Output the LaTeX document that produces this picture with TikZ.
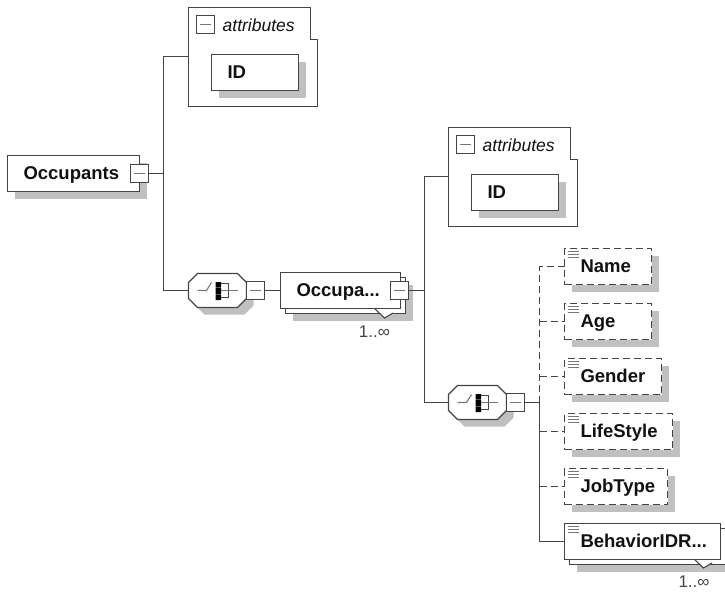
\documentclass[tikz,border=0pt]{standalone}
\usepackage{fontspec}
\setmainfont{Liberation Sans}
\usetikzlibrary{shadows,calc}
\definecolor{linec}{HTML}{444444}
\definecolor{shadowc}{HTML}{C0C0C0}
\definecolor{minusc}{HTML}{777777}
\definecolor{textc}{HTML}{111111}
\tikzset{
  x=1pt,y=-1pt,
  base/.style={line width=1.1pt,draw=linec},
  shad/.style={drop shadow={shadow xshift=7pt,shadow yshift=-7pt,fill=shadowc,opacity=1}},
  elem/.style={base,fill=white,anchor=north west,outer sep=0pt,inner xsep=16pt,inner ysep=0pt,
    text width=#1,minimum height=36pt,text height=15pt,text depth=3pt,align=left,
    font=\fontsize{18.5}{20}\selectfont\bfseries,text=textc},
  dash el/.style={dash pattern=on 7pt off 4pt},
  minusbox/.style={base,fill=white,anchor=center,outer sep=0pt,inner sep=0pt,minimum width=18pt,minimum height=18pt,
    path picture={\draw[minusc,line width=1.1pt]
      ([xshift=3.5pt]path picture bounding box.west) -- ([xshift=-3.5pt]path picture bounding box.east);}},
  ghost/.style={anchor=north west,outer sep=0pt,inner sep=0pt},
  conn/.style={line width=1.1pt,draw=linec},
  dconn/.style={conn,dash el},
  attrlabel/.style={anchor=west,inner sep=0pt,font=\fontsize{17.5}{20}\selectfont\itshape,text=textc},
  occurs/.style={inner sep=0pt,font=\fontsize{17}{20}\selectfont,text=linec},
  doc/.style={line width=1pt,draw=minusc},
}
% attributes box: #1 name, #2 x, #3 y
\newcommand{\attrbox}[3]{%
  \begin{scope}[shift={(#2,#3)}]
    \path[base,fill=white] (0,0) -- (122,0) -- (122,32) -- (129,32) -- (129,99) -- (0,99) -- cycle;
    \node[ghost,minimum width=129pt,minimum height=98pt] (#1) at (0,0) {};
    \node[minusbox] (#1minus) at (17,17) {};
    \node[attrlabel] (#1label) at (34,17.5) {attributes};
    \node[elem=55pt,shad] (#1id) at (23,47) {ID};
  \end{scope}}
% sequence compositor: #1 name, #2 x, #3 y of the top left corner
\newcommand{\seqgroup}[3]{%
  \begin{scope}[shift={(#2,#3)}]
    \fill[shadowc] (16,7) -- (56,7) -- (65,16) -- (65,32) -- (56,41) -- (16,41) -- (8,33) -- (8,15) -- cycle;
    \path[base,fill=white] (9,0) -- (49,0) -- (58,9) -- (58,25) -- (49,34) -- (9,34) -- (0,25) -- (0,9) -- cycle;
    \node[ghost,minimum width=58pt,minimum height=34pt] (#1) at (0,0) {};
    \draw[minusc,line width=1.1pt] (9,17) -- (18,17) -- (23,9);
    \draw[linec,line width=0.9pt] (32,10) -- (40,10) -- (40,24) -- (32,24);
    \draw[minusc,line width=1.1pt] (32,17) -- (49,17);
    \fill[black] (27,8.5) rectangle (32.5,14.2) (27,14.7) rectangle (32.5,20.3) (27,20.8) rectangle (32.5,26.5);
  \end{scope}}
\newcommand{\doclines}[1]{%
  \draw[doc] ([shift={(3,3)}]#1.north west) -- +(11,0);
  \draw[doc] ([shift={(3,6)}]#1.north west) -- +(11,0);
  \draw[doc] ([shift={(3,9)}]#1.north west) -- +(11,0);}
\begin{document}
\begin{tikzpicture}
\useasboundingbox (0,0) rectangle (725,592);
\coordinate (trunkA) at (163.5,173.5);
\coordinate (trunkB) at (424.5,290.5);
\coordinate (trunkC) at (539.5,402.5);

% root
\node[elem=100pt,shad] (root) at (7.5,155.5) {Occupants};
\node[minusbox] (rootminus) at (139.5,173.5) {};

% first level
\attrbox{attrA}{188.5}{7.5}
\seqgroup{seqA}{188.5}{273.5}
\node[minusbox] (seqAminus) at (255.5,290.5) {};
\node[elem=88pt,shad] (occback) at (285.5,277.5) {};
\path[base,fill=white] (375,309) -- (384.5,318) -- (393,313);
\node[elem=88pt] (occ) at (280.5,272.5) {Occupa...};
\node[minusbox] (occminus) at (399.5,290.5) {};
\node[occurs] (occmult) at (374.5,332) {1..∞};

% second level
\attrbox{attrB}{448.5}{127.5}
\seqgroup{seqB}{448.5}{385.5}
\node[minusbox] (seqBminus) at (515.5,402.5) {};

% elements
\node[elem=55pt,shad,dash el] (name) at (564.5,248.5) {Name};
\node[elem=55pt,shad,dash el] (age) at (564.5,303.5) {Age};
\node[elem=65pt,shad,dash el] (gender) at (564.5,358.5) {Gender};
\node[elem=76pt,shad,dash el] (lifestyle) at (564.5,413.5) {LifeStyle};
\node[elem=71pt,shad,dash el] (jobtype) at (564.5,468.5) {JobType};
\node[elem=124pt,shad] (behback) at (569.5,528.5) {};
\path[base,fill=white] (695,560) -- (703.5,568) -- (712,563);
\node[elem=124pt] (beh) at (564.5,523.5) {BehaviorIDR...};
\node[occurs] (behmult) at (694,582) {1..∞};
\foreach \n in {name,age,gender,lifestyle,jobtype,beh}{\doclines{\n}}

% connectors
\draw[conn] (rootminus.east) -- (rootminus.east -| trunkA);
\draw[conn] (attrA.west) -| (trunkA) |- (seqA.west);
\draw[conn] (seqAminus.east) -- (occ.west);
\draw[conn] (occminus.east) -- (occminus.east -| trunkB);
\draw[conn] (attrB.west) -| (trunkB) |- (seqB.west);
\draw[conn] (seqBminus.east) -- (trunkC);
\draw[dconn] (trunkC) -- (trunkC |- name.west) -- (name.west);
\draw[dconn] (age.west -| trunkC) -- (age.west);
\draw[dconn] (gender.west -| trunkC) -- (gender.west);
\draw[dconn] (lifestyle.west -| trunkC) -- (lifestyle.west);
\draw[dconn] (jobtype.west -| trunkC) -- (jobtype.west);
\draw[conn] (trunkC) -- (trunkC |- beh.west) -- (beh.west);
\end{tikzpicture}
\end{document}
